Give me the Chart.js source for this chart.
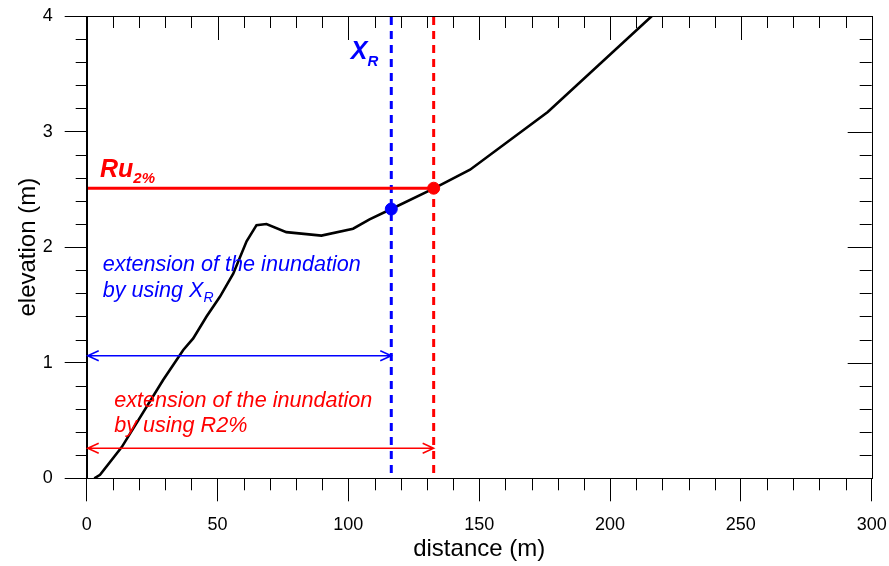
<!DOCTYPE html>
<html>
<head>
<meta charset="utf-8">
<script src="https://cdn.jsdelivr.net/npm/chart.js@4/dist/chart.umd.min.js"></script>
<style>
  body { margin: 0; background: #fff; }
  canvas { display: block; }
</style>
</head>
<body>
<canvas id="profileChart" width="889" height="566"></canvas>
<script>
// beach profile
const distance  = [2.9, 5.1, 13.4, 29.2, 36.9, 40.7, 45.8, 50.9, 56.0, 61.1, 64.9, 68.7, 76.3, 89.7, 101.8, 108.1, 116.4, 132.9, 146.5, 176.2, 216.0];
const elevation = [0.0, 0.03, 0.27, 0.85, 1.11, 1.21, 1.40, 1.57, 1.77, 2.05, 2.19, 2.20, 2.13, 2.10, 2.16, 2.24, 2.33, 2.51, 2.67, 3.17, 4.0];

const xR = 116.4;      // runup limit from X_R
const xRElev = 2.33;
const r2x = 132.6;     // runup limit from Ru2%
const ru2 = 2.51;

const xTicks = [0, 50, 100, 150, 200, 250, 300];
const yTicks = [0, 1, 2, 3, 4];

const FONT = "'Liberation Sans', Arial, sans-serif";
const BLUE = '#0000ff', RED = '#ff0000';

const profile = distance.map((d, i) => ({ x: d, y: elevation[i] }));

function arrow(ctx, x1, x2, y, color) {
    ctx.save();
    ctx.strokeStyle = color;
    ctx.lineWidth = 1.5;
    ctx.beginPath();
    ctx.moveTo(x1, y); ctx.lineTo(x2, y);
    ctx.moveTo(x1 + 11, y - 5); ctx.lineTo(x1, y); ctx.lineTo(x1 + 11, y + 5);
    ctx.moveTo(x2 - 11, y - 5); ctx.lineTo(x2, y); ctx.lineTo(x2 - 11, y + 5);
    ctx.stroke();
    ctx.restore();
}

// text followed by a subscript
function subText(ctx, x, y, main, sub, font, subFont, drop, color) {
    ctx.fillStyle = color;
    ctx.textBaseline = 'alphabetic';
    ctx.textAlign = 'left';
    ctx.font = font;
    ctx.fillText(main, x, y);
    const w = ctx.measureText(main).width;
    ctx.font = subFont;
    ctx.fillText(sub, x + w, y + drop);
}

const extras = {
    id: 'extras',
    afterDatasetsDraw(chart) {
        const { ctx, chartArea: a, scales: { x, y } } = chart;
        ctx.save();
        // frame
        ctx.strokeStyle = '#000';
        ctx.lineWidth = 1;
        ctx.strokeRect(Math.round(a.left) + 0.5, Math.round(a.top) + 0.5, Math.round(a.right - a.left), Math.round(a.bottom - a.top));

        ctx.beginPath();
        // x ticks: minor outside bottom, all inside top
        for (let v = 0; v <= 300; v += 10) {
            const px = Math.round(x.getPixelForValue(v)) + 0.5;
            const major = v % 50 === 0;
            if (!major) {
                ctx.moveTo(px, a.bottom); ctx.lineTo(px, a.bottom + 12);
            }
            ctx.moveTo(px, a.top); ctx.lineTo(px, a.top + (major ? 24 : 12));
        }
        // y ticks: minor outside left, all inside right
        for (let k = 0; k <= 20; k++) {
            const v = k * 0.2;
            const py = Math.round(y.getPixelForValue(v)) + 0.5;
            const major = k % 5 === 0;
            if (!major) {
                ctx.moveTo(a.left - 11, py); ctx.lineTo(a.left, py);
            }
            ctx.moveTo(a.right, py); ctx.lineTo(a.right - (major ? 24 : 12), py);
        }
        ctx.stroke();

        // arrows
        arrow(ctx, x.getPixelForValue(0) + 1, x.getPixelForValue(xR), y.getPixelForValue(1.06), BLUE);
        arrow(ctx, x.getPixelForValue(0) + 1, x.getPixelForValue(r2x), y.getPixelForValue(0.26), RED);

        // labels
        subText(ctx, x.getPixelForValue(100.9), y.getPixelForValue(3.625), 'X', 'R',
            'italic bold 25px ' + FONT, 'italic bold 15px ' + FONT, 7, BLUE);
        subText(ctx, x.getPixelForValue(5.1), y.getPixelForValue(2.61), 'Ru', '2%',
            'italic bold 25px ' + FONT, 'italic bold 15px ' + FONT, 6, RED);

        const tf = 'italic 21.6px ' + FONT;
        ctx.font = tf;
        ctx.fillStyle = BLUE;
        ctx.fillText('extension of the inundation', x.getPixelForValue(6.1), y.getPixelForValue(1.796));
        subText(ctx, x.getPixelForValue(6.1), y.getPixelForValue(1.571), 'by using X', 'R',
            tf, 'italic 14px ' + FONT, 5, BLUE);
        ctx.font = tf;
        ctx.fillStyle = RED;
        ctx.fillText('extension of the inundation', x.getPixelForValue(10.5), y.getPixelForValue(0.619));
        ctx.fillText('by using R2%', x.getPixelForValue(10.5), y.getPixelForValue(0.403));
        ctx.restore();
    }
};

new Chart(document.getElementById('profileChart'), {
    type: 'scatter',
    data: {
        datasets: [
            { data: [{ x: r2x, y: ru2 }], pointRadius: 6, pointBackgroundColor: RED, pointBorderColor: RED, showLine: false },
            { data: [{ x: xR, y: xRElev }], pointRadius: 6, pointBackgroundColor: BLUE, pointBorderColor: BLUE, showLine: false },
            { data: profile, showLine: true, borderColor: '#000', borderWidth: 2.6, pointRadius: 0 },
            { data: [{ x: 0, y: ru2 }, { x: r2x, y: ru2 }], showLine: true, borderColor: RED, borderWidth: 3, pointRadius: 0 },
            { data: [{ x: xR, y: 0.045 }, { x: xR, y: 4 }], showLine: true, borderColor: BLUE, borderWidth: 3, borderDash: [8, 6], pointRadius: 0 },
            { data: [{ x: r2x, y: 0.045 }, { x: r2x, y: 4 }], showLine: true, borderColor: RED, borderWidth: 3, borderDash: [8, 6], pointRadius: 0 }
        ]
    },
    options: {
        responsive: false,
        animation: false,
        devicePixelRatio: 1,
        layout: { padding: { left: 13.6, right: 17.3, top: 16, bottom: 2.6 } },
        plugins: { legend: { display: false }, tooltip: { enabled: false } },
        scales: {
            x: {
                type: 'linear', min: 0, max: 300,
                afterBuildTicks: s => { s.ticks = xTicks.map(v => ({ value: v })); },
                afterFit: s => { s.height = 85.1; s.paddingLeft = 0; s.paddingRight = 0; },
                ticks: { color: '#000', font: { family: FONT, size: 18 }, padding: 13 },
                grid: { drawOnChartArea: false, drawTicks: true, tickLength: 23, color: '#000' },
                border: { display: true, color: '#000', width: 1 },
                title: { display: true, text: 'distance (m)', color: '#000', font: { family: FONT, size: 24 }, padding: 0 }
            },
            y: {
                type: 'linear', min: 0, max: 4,
                afterBuildTicks: s => { s.ticks = yTicks.map(v => ({ value: v })); },
                afterFit: s => { s.width = 73.1; s.paddingTop = 0; s.paddingBottom = 0; },
                ticks: { color: '#000', font: { family: FONT, size: 18 }, padding: 12 },
                grid: { drawOnChartArea: false, drawTicks: true, tickLength: 22, color: '#000' },
                border: { display: true, color: '#000', width: 1 },
                title: { display: true, text: 'elevation (m)', color: '#000', font: { family: FONT, size: 24 }, padding: 0 }
            }
        }
    },
    plugins: [extras]
});
</script>
</body>
</html>
